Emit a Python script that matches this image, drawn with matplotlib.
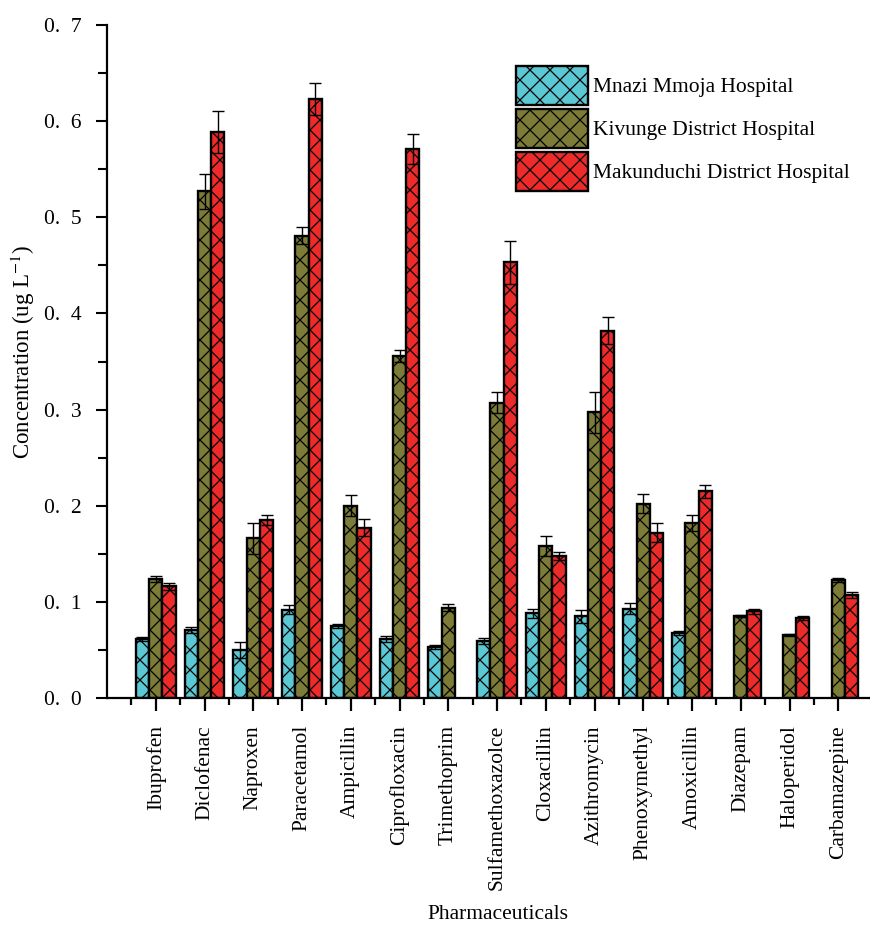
import matplotlib.pyplot as plt
import numpy as np

# rendered at 120 dpi so the 'xx' hatch gets ~10 px diamonds like the original
DPI = 120
P = 100 / DPI  # sizes below were measured in 100-dpi points

plt.rcParams.update({
    'font.family': 'Liberation Serif',
    'mathtext.fontset': 'stix',
    'hatch.linewidth': 0.9 * P,
    'hatch.color': 'black',
})

drugs = ['Ibuprofen', 'Diclofenac', 'Naproxen', 'Paracetamol', 'Ampicillin',
         'Ciprofloxacin', 'Trimethoprim', 'Sulfamethoxazolce', 'Cloxacillin',
         'Azithromycin', 'Phenoxymethyl', 'Amoxicillin', 'Diazepam',
         'Haloperidol', 'Carbamazepine']
hospitals = ['Mnazi Mmoja Hospital', 'Kivunge District Hospital',
             'Makunduchi District Hospital']

mnazi = [0.061, 0.071, 0.050, 0.092, 0.075, 0.061, 0.053, 0.059, 0.088,
         0.085, 0.093, 0.068, np.nan, np.nan, np.nan]
mnazi_err = [0.002, 0.003, 0.008, 0.005, 0.002, 0.003, 0.002, 0.003, 0.005,
             0.007, 0.006, 0.002, 0, 0, 0]
kivunge = [0.124, 0.527, 0.166, 0.481, 0.200, 0.356, 0.094, 0.307, 0.158,
           0.297, 0.202, 0.182, 0.085, 0.066, 0.123]
kivunge_err = [0.003, 0.018, 0.016, 0.009, 0.011, 0.006, 0.004, 0.011, 0.010,
               0.021, 0.010, 0.008, 0.001, 0.001, 0.002]
makunduchi = [0.116, 0.589, 0.185, 0.623, 0.177, 0.571, np.nan, 0.453, 0.148,
              0.382, 0.172, 0.215, 0.090, 0.083, 0.107]
makunduchi_err = [0.004, 0.022, 0.005, 0.017, 0.009, 0.016, 0, 0.022, 0.004,
                  0.014, 0.010, 0.007, 0.003, 0.002, 0.003]

colors = ['#5BC8D3', '#7C7C38', '#EE2B2B']

fig = plt.figure(figsize=(870 / DPI, 926 / DPI), dpi=DPI)
ax = fig.add_axes([107 / 870, 1 - 698 / 926, 763 / 870, 673 / 926])

x = np.arange(1, len(drugs) + 1)
w = 0.272
series = [(mnazi, mnazi_err), (kivunge, kivunge_err), (makunduchi, makunduchi_err)]
for k, (vals, errs) in enumerate(series):
    vals = np.array(vals, dtype=float)
    errs = np.array(errs, dtype=float)
    m = ~np.isnan(vals)
    pos = x[m] + (k - 1) * w
    ax.bar(pos, vals[m], w, color=colors[k], edgecolor='black', linewidth=1.7 * P,
           hatch='xx', label=hospitals[k], zorder=2)
    ax.errorbar(pos, vals[m], yerr=errs[m], fmt='none', ecolor='black',
                elinewidth=1.0 * P, capsize=4.3 * P, capthick=1.0 * P, zorder=3)

ax.set_xlim(0, 15.65)
ax.set_ylim(0, 0.7)
ax.set_xticks(x)
ax.set_xticks(x - 0.5, minor=True)
ax.set_xticklabels(drugs, rotation=90, fontsize=15.5 * P)
yt = np.arange(0, 0.71, 0.1)
ax.set_yticks(yt)
ax.set_yticklabels([f'{v:.1f}'.replace('.', '.  ') for v in yt], fontsize=15.5 * P)
ax.set_yticks(np.arange(0.05, 0.7, 0.1), minor=True)

ax.tick_params(axis='x', which='major', direction='out', length=9.5 * P, width=1.6 * P, pad=10 * P)
ax.tick_params(axis='x', which='minor', direction='out', length=5 * P, width=1.6 * P)
ax.tick_params(axis='y', which='major', direction='out', length=8 * P, width=1.5 * P, pad=10.5 * P)
ax.tick_params(axis='y', which='minor', direction='out', length=6.5 * P, width=1.5 * P)

for s in ['top', 'right']:
    ax.spines[s].set_visible(False)
for s in ['left', 'bottom']:
    ax.spines[s].set_linewidth(1.6 * P)

ax.set_ylabel(r'Concentration (ug L$^{-1}$)', fontsize=16.5 * P)
ax.yaxis.set_label_coords(-0.092, 0.514)
ax.set_xlabel('Pharmaceuticals', fontsize=15.5 * P)
ax.xaxis.set_label_coords(0.512, -0.308)

ax.legend(loc='upper left', bbox_to_anchor=(0.536, 0.939), frameon=False,
          fontsize=15.5 * P, borderpad=0, borderaxespad=0, handlelength=3.35,
          handleheight=2.41, labelspacing=0.19, handletextpad=0.25)

plt.savefig('out.png', dpi=DPI)
